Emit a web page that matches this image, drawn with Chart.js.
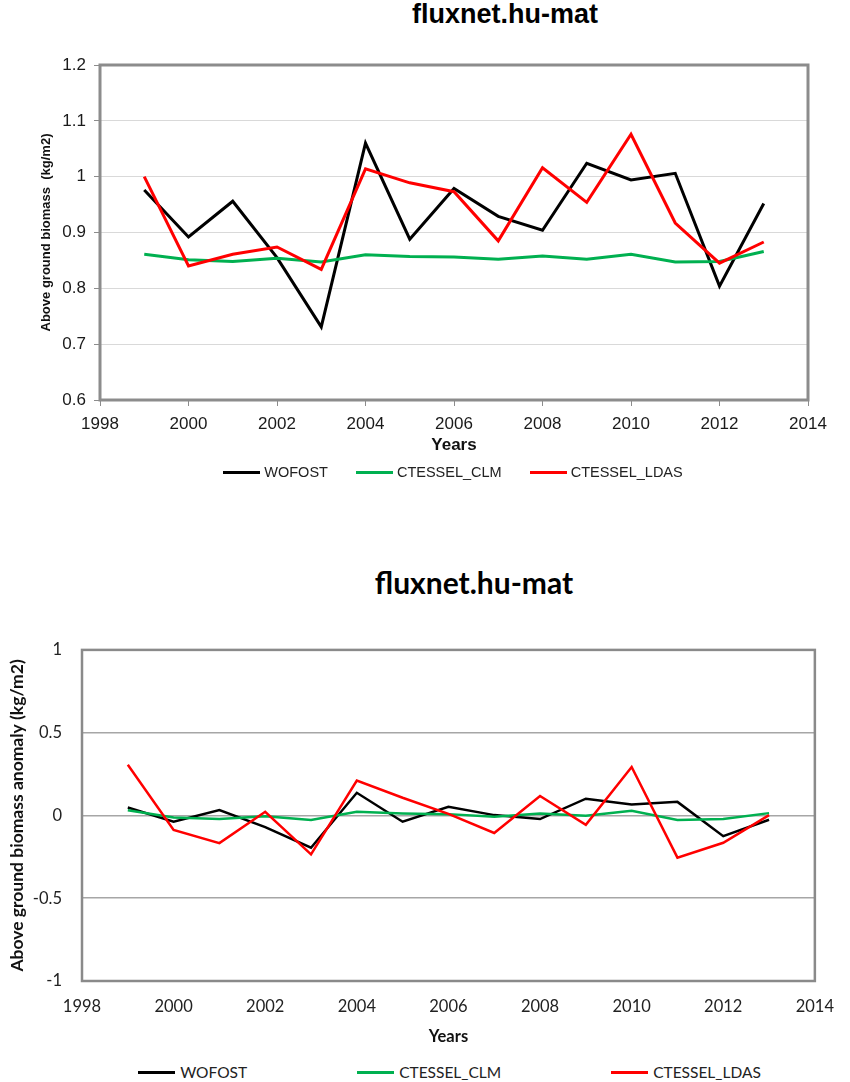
<!DOCTYPE html>
<html>
<head>
<meta charset="utf-8">
<script src="https://cdn.jsdelivr.net/npm/chart.js@4.4.1/dist/chart.umd.min.js"></script>
<style>
  html, body { margin: 0; padding: 0; background: #fff; }
  body { width: 850px; height: 1082px; position: relative; overflow: hidden; }
  .box { position: absolute; left: 0; width: 850px; }
  .title { position: absolute; left: 0; text-align: center; font-weight: bold; color: #000; white-space: nowrap; }
  #title-top { width: 1010px; top: -1px; height: 40px; line-height: 40px; font: bold 27px "Liberation Sans", Arial, sans-serif; }
  #title-bottom { width: 948px; top: 564px; height: 40px; line-height: 40px; font: bold 30px Lato, "Open Sans", sans-serif; }
  .legend { position: absolute; left: 0; display: flex; justify-content: center; align-items: center; white-space: nowrap; }
  .legend .item { display: flex; align-items: center; }
  .legend .swatch { display: inline-block; width: 37px; height: 3px; }
  #legend-top { top: 462px; width: 906px; height: 20px; gap: 28px; font: 14.5px "Liberation Sans", Arial, sans-serif; color: #222; }
  #legend-top .swatch { margin-right: 4px; }
  #legend-bottom { top: 1062px; width: 899px; height: 20px; gap: 110px; font: 15.5px Lato, sans-serif; color: #222; }
  #legend-bottom .swatch { margin-right: 5px; }
</style>
</head>
<body>
<div id="title-top" class="title">fluxnet.hu-mat</div>
<div class="box" style="top:0; height:470px;"><canvas id="absChart"></canvas></div>
<div id="legend-top" class="legend"></div>

<div id="title-bottom" class="title">fluxnet.hu-mat</div>
<div class="box" style="top:620px; height:430px;"><canvas id="anomChart"></canvas></div>
<div id="legend-bottom" class="legend"></div>

<script>
// Data
const years = [1999, 2000, 2001, 2002, 2003, 2004, 2005, 2006, 2007, 2008, 2009, 2010, 2011, 2012, 2013];
const seriesNames = ['WOFOST', 'CTESSEL_CLM', 'CTESSEL_LDAS'];
const seriesColors = ['#000000', '#00b050', '#ff0000'];
const drawOrder = [3, 2, 1];

// above ground biomass (kg/m2)
const wofostBiomass = [0.976, 0.892, 0.956, 0.855, 0.731, 1.060, 0.888, 0.979, 0.929, 0.904, 1.024, 0.994, 1.006, 0.804, 0.952];
const clmBiomass    = [0.861, 0.851, 0.848, 0.854, 0.847, 0.860, 0.857, 0.856, 0.852, 0.858, 0.852, 0.861, 0.847, 0.848, 0.866];
const ldasBiomass   = [1.000, 0.840, 0.861, 0.874, 0.834, 1.014, 0.989, 0.973, 0.885, 1.016, 0.954, 1.076, 0.917, 0.845, 0.883];

// anomaly (kg/m2)
const wofostAnomaly = [0.048, -0.038, 0.032, -0.070, -0.195, 0.137, -0.038, 0.052, 0.002, -0.022, 0.101, 0.066, 0.082, -0.125, -0.026];
const clmAnomaly    = [0.032, -0.012, -0.022, -0.005, -0.028, 0.022, 0.012, 0.008, -0.008, 0.012, -0.002, 0.028, -0.028, -0.022, 0.014];
const ldasAnomaly   = [0.306, -0.088, -0.167, 0.022, -0.235, 0.211, 0.107, 0.010, -0.106, 0.118, -0.056, 0.293, -0.255, -0.165, 0.002];

// Tick labels
const xTickYears = [1998, 2000, 2002, 2004, 2006, 2008, 2010, 2012, 2014];
const yTicksBiomass = [0.6, 0.7, 0.8, 0.9, 1, 1.1, 1.2];
const yTicksAnomaly = [-1, -0.5, 0, 0.5, 1];

// draws the grey box round the plot area
const plotFrame = {
    id: 'plotFrame',
    beforeDatasetsDraw(chart, args, opts) {
        const {ctx, chartArea: a} = chart;
        ctx.save();
        ctx.strokeStyle = opts.color;
        ctx.lineWidth = opts.width;
        ctx.strokeRect(a.left, a.top, a.right - a.left, a.bottom - a.top);
        ctx.restore();
    }
};

function makeDatasets(seriesList, width) {
    return seriesList.map((vals, i) => ({
        label: seriesNames[i],
        data: years.map((yr, j) => ({x: yr, y: vals[j]})),
        borderColor: seriesColors[i],
        backgroundColor: seriesColors[i],
        borderWidth: width,
        pointRadius: 0,
        tension: 0,
        order: drawOrder[i]
    }));
}

function setTicks(list) {
    return scale => { scale.ticks = list.map(v => ({value: v})); };
}

function buildLegend(el) {
    seriesNames.forEach((name, i) => {
        const item = document.createElement('div');
        item.className = 'item';
        item.innerHTML = `<span class="swatch" style="background:${seriesColors[i]}"></span><span>${name}</span>`;
        el.appendChild(item);
    });
}

Chart.register(plotFrame);

// Top chart: absolute biomass
const sansTop = '"Liberation Sans", Arial, sans-serif';
new Chart(document.getElementById('absChart'), {
    type: 'line',
    data: { datasets: makeDatasets([wofostBiomass, clmBiomass, ldasBiomass], 3) },
    options: {
        responsive: true,
        maintainAspectRatio: false,
        animation: false,
        layout: { padding: { top: 65, right: 42, left: 0, bottom: 0 } },
        plugins: {
            legend: { display: false },
            tooltip: { enabled: false },
            plotFrame: { color: '#8c8c8c', width: 3 }
        },
        scales: {
            x: {
                type: 'linear',
                min: 1998, max: 2014,
                afterBuildTicks: setTicks(xTickYears),
                afterFit: s => { s.height = 70; },
                grid: { drawOnChartArea: false, drawTicks: true, tickLength: 6, tickColor: '#8c8c8c' },
                border: { display: false },
                ticks: { padding: 8, color: '#1a1a1a', font: { family: sansTop, size: 17 }, callback: v => String(v) },
                title: { display: true, text: 'Years', color: '#111', font: { family: sansTop, size: 17, weight: 'bold' }, padding: { top: 0, bottom: 14 } }
            },
            y: {
                min: 0.6, max: 1.2,
                afterBuildTicks: setTicks(yTicksBiomass),
                afterFit: s => { s.width = 100; },
                grid: { color: '#d9d9d9', lineWidth: 1, tickLength: 6, tickColor: '#8c8c8c' },
                border: { display: false },
                ticks: { padding: 8, color: '#1a1a1a', font: { family: sansTop, size: 17 }, callback: v => String(+v.toFixed(2)) },
                title: { display: true, text: 'Above ground biomass  (kg/m2)', color: '#111', font: { family: sansTop, size: 13, weight: 'bold' }, padding: { top: 39, bottom: 0 } }
            }
        }
    }
});

// Bottom chart: anomaly
const sansBottom = 'Lato, "Open Sans", sans-serif';
new Chart(document.getElementById('anomChart'), {
    type: 'line',
    data: { datasets: makeDatasets([wofostAnomaly, clmAnomaly, ldasAnomaly], 2.5) },
    options: {
        responsive: true,
        maintainAspectRatio: false,
        animation: false,
        layout: { padding: { top: 26, right: 23, left: 0, bottom: 0 } },
        plugins: {
            legend: { display: false },
            tooltip: { enabled: false },
            plotFrame: { color: '#8a8a8a', width: 2.5 }
        },
        scales: {
            x: {
                type: 'linear',
                min: 1998, max: 2014,
                afterBuildTicks: setTicks(xTickYears),
                afterFit: s => { s.height = 69; },
                grid: { drawOnChartArea: false, drawTicks: false },
                border: { display: false },
                ticks: { padding: 16, color: '#222', font: { family: sansBottom, size: 16.5 }, callback: v => String(v) },
                title: { display: true, text: 'Years', color: '#111', font: { family: sansBottom, size: 16.5, weight: 'bold' }, padding: { top: 0, bottom: 3 } }
            },
            y: {
                min: -1, max: 1,
                afterBuildTicks: setTicks(yTicksAnomaly),
                afterFit: s => { s.width = 82; },
                grid: { color: '#a6a6a6', lineWidth: 1.5, drawTicks: false },
                border: { display: false },
                ticks: { padding: 20, color: '#222', font: { family: sansBottom, size: 16.5 }, callback: v => String(v) },
                title: { display: true, text: 'Above ground biomass anomaly (kg/m2)', color: '#111', font: { family: sansBottom, size: 17.5, weight: 'bold' }, padding: { top: 7, bottom: 0 } }
            }
        }
    }
});

buildLegend(document.getElementById('legend-top'));
buildLegend(document.getElementById('legend-bottom'));
</script>
</body>
</html>
